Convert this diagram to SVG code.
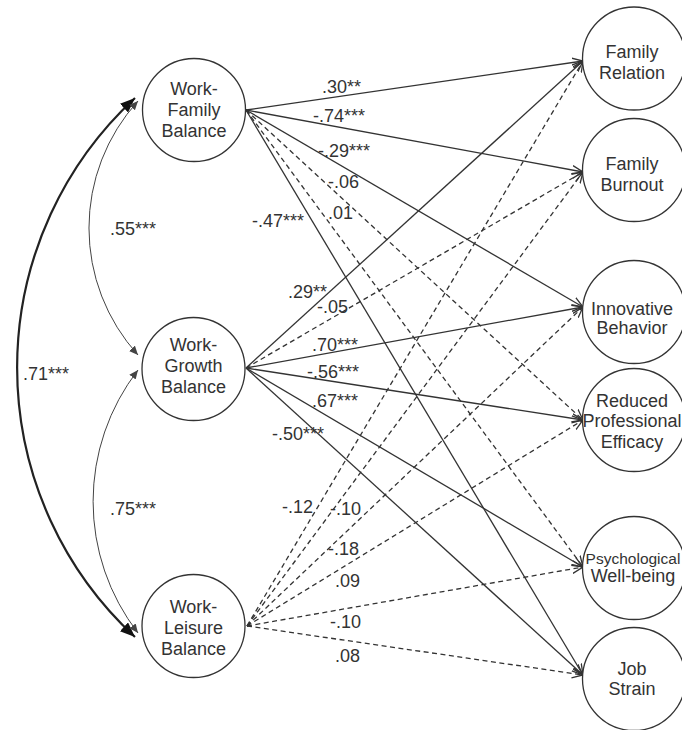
<svg xmlns="http://www.w3.org/2000/svg" width="682" height="730" viewBox="0 0 682 730">
<style>
  .node circle { fill: #fff; stroke: #333; stroke-width: 1.3; }
  .node text { font-family: "Liberation Sans", Arial, sans-serif; font-size: 18px; fill: #333; text-anchor: middle; }
  .lbl { font-family: "Liberation Sans", Arial, sans-serif; font-size: 18px; fill: #333; }
  .s { fill: none; stroke: #333; stroke-width: 1.3; marker-end: url(#arr); }
  .d { fill: none; stroke: #333; stroke-width: 1.3; stroke-dasharray: 5 3.5; marker-end: url(#arr); }
  .cov { fill: none; stroke: #444; stroke-width: 1; marker-start: url(#tri); marker-end: url(#tri); }
  .covb { fill: none; stroke: #222; stroke-width: 2.2; marker-start: url(#big); marker-end: url(#big); }
</style>
<defs>
  <marker id="arr" markerUnits="userSpaceOnUse" markerWidth="14" markerHeight="12" refX="11" refY="5" orient="auto">
    <path d="M0,0.5 L11,5 L0,9.5" fill="none" stroke="#333" stroke-width="1.3" stroke-dasharray="none"/>
  </marker>
  <marker id="tri" markerUnits="userSpaceOnUse" markerWidth="12" markerHeight="10" refX="9" refY="4" orient="auto-start-reverse">
    <path d="M0,0 L9,4 L0,8 Z" fill="#444"/>
  </marker>
  <marker id="big" markerUnits="userSpaceOnUse" markerWidth="18" markerHeight="14" refX="15" refY="6" orient="auto-start-reverse">
    <path d="M0,0 L15,6 L0,12 Z" fill="#111"/>
  </marker>
</defs>
<rect width="682" height="730" fill="#fff"/>

<g id="connectors">
  <!-- covariances -->
  <path class="covb" d="M135,98 A367,367 0 0,0 135,637"/>
  <path class="cov" d="M138,101 A189,189 0 0,0 138,355"/>
  <path class="cov" d="M138,370 A215,215 0 0,0 138,633"/>
  <!-- Work-Family -->
  <path class="s" d="M246,110 L583,61"/>
  <path class="s" d="M246,110 L583,172"/>
  <path class="s" d="M246,110 L583,307"/>
  <path class="d" d="M246,110 L583,420"/>
  <path class="d" d="M246,110 L583,567"/>
  <path class="s" d="M246,110 L583,675"/>
  <!-- Work-Growth -->
  <path class="s" d="M246,368 L583,61"/>
  <path class="d" d="M246,368 L583,172"/>
  <path class="s" d="M246,368 L583,307"/>
  <path class="s" d="M246,368 L583,420"/>
  <path class="s" d="M246,368 L583,567"/>
  <path class="s" d="M246,368 L583,675"/>
  <!-- Work-Leisure -->
  <path class="d" d="M247,626 L583,61"/>
  <path class="d" d="M247,626 L583,172"/>
  <path class="d" d="M247,626 L583,307"/>
  <path class="d" d="M247,626 L583,420"/>
  <path class="d" d="M247,626 L583,567"/>
  <path class="d" d="M247,626 L583,675"/>
</g>

<g id="labels">
  <text class="lbl" x="110" y="235">.55***</text>
  <text class="lbl" x="23" y="380">.71***</text>
  <text class="lbl" x="110" y="515">.75***</text>
  <text class="lbl" x="322" y="93">.30**</text>
  <text class="lbl" x="313" y="122">-.74***</text>
  <text class="lbl" x="318" y="157">-.29***</text>
  <text class="lbl" x="328" y="188">-.06</text>
  <text class="lbl" x="328" y="219">.01</text>
  <text class="lbl" x="252" y="227">-.47***</text>
  <text class="lbl" x="288" y="298">.29**</text>
  <text class="lbl" x="317" y="313">-.05</text>
  <text class="lbl" x="312" y="351">.70***</text>
  <text class="lbl" x="307" y="378">-.56***</text>
  <text class="lbl" x="312" y="407">.67***</text>
  <text class="lbl" x="272" y="440">-.50***</text>
  <text class="lbl" x="282" y="513">-.12</text>
  <text class="lbl" x="330" y="515">-.10</text>
  <text class="lbl" x="328" y="555">-.18</text>
  <text class="lbl" x="335" y="587">.09</text>
  <text class="lbl" x="330" y="628">-.10</text>
  <text class="lbl" x="335" y="662">.08</text>
</g>

<g id="work-family" class="node">
  <circle cx="194" cy="110" r="51.5"/>
  <text x="194" y="95">Work-</text>
  <text x="194" y="116">Family</text>
  <text x="194" y="137">Balance</text>
</g>
<g id="work-growth" class="node">
  <circle cx="193.5" cy="369" r="51.5"/>
  <text x="193.5" y="351">Work-</text>
  <text x="193.5" y="372">Growth</text>
  <text x="193.5" y="393">Balance</text>
</g>
<g id="work-leisure" class="node">
  <circle cx="193.5" cy="626" r="51.5"/>
  <text x="193.5" y="613">Work-</text>
  <text x="193.5" y="634">Leisure</text>
  <text x="193.5" y="655">Balance</text>
</g>

<g id="family-relation" class="node">
  <circle cx="634" cy="58.5" r="51.5"/>
  <text x="632" y="58">Family</text>
  <text x="632" y="79">Relation</text>
</g>
<g id="family-burnout" class="node">
  <circle cx="634" cy="170" r="51.5"/>
  <text x="632" y="170">Family</text>
  <text x="632" y="191">Burnout</text>
</g>
<g id="innovative-behavior" class="node">
  <circle cx="634" cy="312" r="51.5"/>
  <text x="632" y="315">Innovative</text>
  <text x="632" y="334">Behavior</text>
</g>
<g id="reduced-professional-efficacy" class="node">
  <circle cx="634" cy="420" r="51.5"/>
  <text x="632" y="407">Reduced</text>
  <text x="632" y="427">Professional</text>
  <text x="632" y="448">Efficacy</text>
</g>
<g id="psychological-well-being" class="node">
  <circle cx="634" cy="568" r="51.5"/>
  <text x="633" y="564" style="font-size:15.5px">Psychological</text>
  <text x="633" y="582">Well-being</text>
</g>
<g id="job-strain" class="node">
  <circle cx="634" cy="679" r="51.5"/>
  <text x="632" y="675">Job</text>
  <text x="632" y="695">Strain</text>
</g>
</svg>
